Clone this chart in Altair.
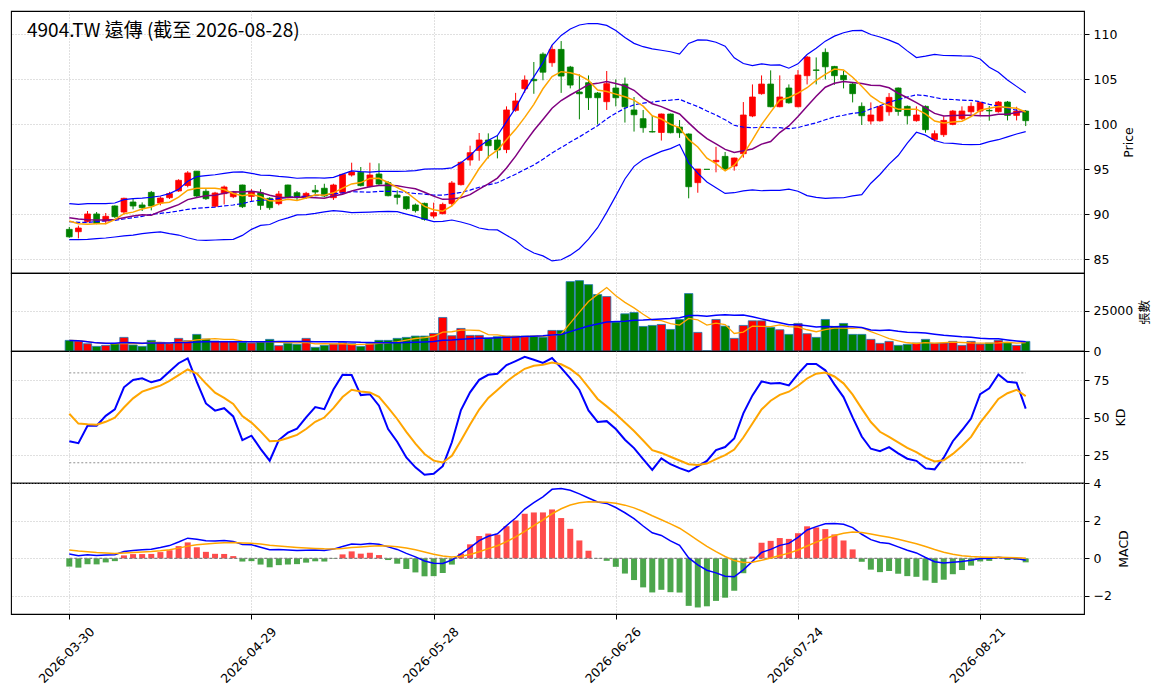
import altair as alt
import pandas as pd

title_text = "4904.TW 遠傳 (截至 2026-08-28)"
tick_pos = [0, 20, 40, 60, 80, 100]
tick_labels = ["2026-03-30", "2026-04-29", "2026-05-28", "2026-06-26", "2026-07-24", "2026-08-21"]

opens = [88.33, 88.07, 89.2, 90.04, 89.26, 90.93, 90.26, 91.37, 91.04, 92.44,
         91.26, 91.85, 92.6, 93.2, 94.8, 92.56, 90.9, 92.3, 91.96, 93.26,
         92.0, 92.4, 91.78, 91.19, 93.26, 92.4, 91.85, 92.67, 92.9, 91.85,
         92.4, 94.37, 94.67, 93.1, 94.48, 93.52, 92.15, 91.96, 91.04, 91.22,
         89.81, 90.07, 91.19, 93.3, 96.04, 97.1, 98.26, 98.26, 97.2, 101.56,
         103.96, 105.0, 107.8, 106.85, 108.33, 106.37, 103.6, 104.63, 103.48, 102.52,
         104.04, 104.48, 101.6, 100.63, 99.2, 99.1, 101.15, 99.7, 98.93, 93.52,
         95.0, 95.85, 96.44, 95.37, 96.74, 100.93, 103.41, 104.48, 101.96, 104.04,
         101.96, 105.41, 106.05, 108.0, 106.44, 105.44, 104.48, 102.0, 100.37, 100.4,
         101.4, 104.04, 102.0, 100.41, 102.0, 98.33, 98.85, 100.0, 100.63, 101.4,
         101.48, 101.55, 101.41, 102.48, 101.0, 101.48]
closes = [87.5, 88.48, 90.04, 89.0, 89.78, 89.74, 91.78, 90.93, 90.74, 90.93,
          91.81, 92.3, 93.78, 94.6, 92.04, 91.74, 92.37, 93.04, 92.4, 90.85,
          92.5, 91.0, 90.74, 92.26, 91.9, 91.85, 92.33, 92.48, 92.04, 93.26,
          94.44, 94.7, 93.19, 94.37, 93.37, 92.07, 91.89, 90.63, 90.41, 89.44,
          90.19, 91.1, 93.48, 95.78, 96.85, 98.26, 97.63, 97.15, 101.6, 102.6,
          104.93, 104.85, 105.8, 108.33, 105.37, 104.37, 103.4, 102.96, 102.96, 104.52,
          102.96, 101.96, 101.07, 99.63, 99.15, 101.15, 99.07, 99.07, 93.07, 95.04,
          95.0, 96.0, 95.04, 96.26, 101.04, 103.04, 104.48, 101.96, 103.04, 102.4,
          105.48, 107.48, 106.0, 106.4, 105.41, 104.96, 103.41, 100.96, 101.04, 102.0,
          103.0, 101.44, 100.96, 101.04, 99.41, 98.96, 100.44, 101.48, 101.48, 102.0,
          102.44, 101.5, 102.48, 101.0, 101.48, 100.41]
highs = [88.6, 88.74, 90.37, 90.26, 90.15, 91.0, 91.85, 91.78, 91.33, 92.6,
         92.0, 92.5, 93.9, 94.8, 94.8, 92.8, 92.5, 93.2, 92.6, 93.3,
         92.8, 92.8, 91.9, 92.6, 93.3, 92.6, 92.5, 93.26, 93.4, 93.4,
         94.5, 95.74, 95.26, 95.74, 95.67, 93.7, 92.67, 92.0, 91.2, 91.3,
         91.3, 91.3, 93.7, 95.9, 97.63, 99.04, 99.0, 98.8, 102.0, 103.5,
         105.44, 106.93, 108.0, 108.8, 109.26, 106.5, 105.56, 105.44, 103.6, 105.93,
         105.0, 105.2, 103.04, 101.6, 100.96, 101.2, 101.2, 100.48, 99.0, 95.04,
         95.0, 97.5, 96.93, 96.3, 102.48, 104.44, 105.44, 106.0, 105.44, 104.44,
         106.04, 107.6, 107.44, 108.44, 106.5, 105.93, 104.6, 102.44, 102.44, 102.1,
         103.48, 104.1, 102.1, 102.0, 102.1, 99.33, 100.9, 101.6, 102.0, 102.44,
         102.5, 102.04, 102.6, 102.6, 101.96, 101.6]
lows = [87.4, 87.33, 89.1, 88.9, 88.9, 89.6, 90.0, 90.56, 90.37, 90.44,
        91.0, 91.7, 92.5, 93.0, 91.9, 91.6, 90.8, 91.1, 91.8, 90.7,
        91.4, 90.5, 90.5, 91.0, 91.8, 91.6, 91.7, 92.04, 91.9, 91.6,
        92.3, 94.2, 93.1, 93.0, 93.2, 92.0, 91.1, 90.5, 90.2, 89.3,
        89.55, 90.0, 90.9, 93.2, 95.41, 95.96, 96.22, 96.22, 96.8, 101.4,
        103.5, 103.4, 104.9, 106.4, 103.5, 104.0, 100.56, 101.6, 100.0, 101.6,
        102.0, 100.2, 99.2, 99.07, 99.1, 98.2, 99.0, 98.5, 91.78, 92.4,
        95.0, 94.67, 94.9, 94.85, 96.3, 100.8, 103.3, 101.9, 101.9, 102.3,
        101.9, 104.44, 104.44, 105.0, 104.4, 104.0, 102.44, 99.93, 100.0, 100.3,
        100.96, 100.96, 100.0, 100.3, 99.07, 98.1, 98.6, 99.9, 100.5, 101.1,
        101.0, 100.41, 101.3, 100.44, 100.44, 99.81]
volumes = [6557, 6150, 4500, 2870, 3480, 4710, 8400, 3690, 2870, 6557,
           5330, 4710, 7790, 6350, 10250, 7380, 6150, 5940, 5940, 5330,
           4920, 5740, 7170, 3280, 4710, 4100, 7790, 2250, 3480, 4300,
           5120, 4500, 2870, 4500, 6557, 6557, 7790, 8400, 9220, 9220,
           10860, 20700, 9430, 13930, 9630, 9630, 7990, 8810, 9220, 9220,
           9220, 9220, 8500, 12700, 12700, 42830, 43440, 40980, 34840, 33600,
           17830, 22950, 23770, 15160, 15780, 16390, 13320, 19470, 35450, 11480,
           0, 19470, 15370, 7790, 15780, 18650, 18650, 14550, 13110, 10250,
           17010, 10660, 8400, 19470, 15160, 17010, 10250, 10250, 7170, 4710,
           5940, 3480, 4100, 4920, 7170, 4710, 4920, 5940, 3480, 5940,
           4300, 4920, 6560, 5330, 3480, 5940]

# indicator values for the first bars (history before the window)
ma5_start = [89.26, 88.96, 88.9, 88.96]
ma10_start = [89.63, 89.48, 89.4, 89.37, 89.37, 89.44, 89.63, 89.81, 89.96]
ma20_start = [89.19, 89.1, 89.1, 89.19, 89.26, 89.33, 89.48, 89.63, 89.78, 90.0,
              90.11, 90.22, 90.37, 90.56, 90.67, 90.74, 90.81, 90.93, 91.04]
bb_up_start = [91.19, 91.1, 91.19, 91.19, 91.19, 91.26, 91.63, 91.74, 91.8, 91.9,
               92.04, 92.3, 92.78, 93.67, 94.19, 94.3, 94.4, 94.56, 94.7]
bb_lo_start = [87.19, 87.19, 87.22, 87.3, 87.37, 87.48, 87.6, 87.7, 87.85, 87.96,
               88.04, 87.85, 87.7, 87.4, 87.15, 87.11, 87.15, 87.19, 87.22]
k_start = [34.4, 33.1, 44.7, 44.7, 51.3, 55.6, 70.4, 75.3, 76.4]
d_first = 52.7
ema12_first, ema26_first, dea_first = 89.4, 89.17, 0.45
kd_levels = [80, 20]

n = len(closes)
c = pd.Series(closes, dtype=float)
hi = pd.Series(highs, dtype=float)
lo = pd.Series(lows, dtype=float)
v = pd.Series(volumes, dtype=float)

ma5 = c.rolling(5).mean()
ma5.iloc[:len(ma5_start)] = ma5_start
ma10 = c.rolling(10).mean()
ma10.iloc[:len(ma10_start)] = ma10_start
ma20 = c.rolling(20).mean()
sd20 = c.rolling(20).std()
bbu = ma20 + 2 * sd20
bbl = ma20 - 2 * sd20
ma20.iloc[:len(ma20_start)] = ma20_start
bbu.iloc[:len(bb_up_start)] = bb_up_start
bbl.iloc[:len(bb_lo_start)] = bb_lo_start
vma5 = v.rolling(5, min_periods=1).mean()
vma20 = v.rolling(20, min_periods=1).mean()

hh = hi.rolling(9).max()
ll = lo.rolling(9).min()
rsv = (c - ll) / (hh - ll) * 100
K = list(k_start)
for i in range(len(k_start), n):
    K.append(K[-1] * 2 / 3 + rsv.iloc[i] / 3)
D = [d_first]
for i in range(1, n):
    D.append(D[-1] * 2 / 3 + K[i] / 3)

e12 = [ema12_first]
e26 = [ema26_first]
for i in range(1, n):
    e12.append(e12[-1] + 2 / 13 * (closes[i] - e12[-1]))
    e26.append(e26[-1] + 2 / 27 * (closes[i] - e26[-1]))
dif = [a - b for a, b in zip(e12, e26)]
dea = [dea_first]
for i in range(1, n):
    dea.append(dea[-1] + 0.2 * (dif[i] - dea[-1]))
hist = [2 * (a - b) for a, b in zip(dif, dea)]

df = pd.DataFrame({
    "i": list(range(n)), "open": opens, "close": closes, "high": highs, "low": lows,
    "vol": volumes, "ma5": ma5, "ma10": ma10, "ma20": ma20, "bbu": bbu, "bbl": bbl,
    "vma5": vma5, "vma20": vma20, "K": K, "D": D, "dif": dif, "dea": dea, "hist": hist,
})
df["dir"] = ["up" if cl > op else "down" for op, cl in zip(opens, closes)]
df["hdir"] = ["up" if h >= 0 else "down" for h in hist]
df["zero"] = 0.0

ref_df = pd.DataFrame({"level": kd_levels, "x0": 0, "x1": n - 1})
zero_df = pd.DataFrame({"level": [0], "x0": [0], "x1": [n - 1]})

W = 1073
xscale = alt.Scale(domain=[-6.4, 111.4], nice=False, zero=False, padding=0)
dir_scale = alt.Scale(domain=["up", "down"], range=["#ff0000", "#008000"])

labels_js = "[" + ",".join("'" + s + "'" for s in tick_labels) + "]"
pos_js = "[" + ",".join(str(p) for p in tick_pos) + "]"

def xenc(bottom=False, field="i"):
    if bottom:
        ax = alt.Axis(values=tick_pos, labelExpr=labels_js + "[indexof(" + pos_js + ", datum.value)]",
                      labelAngle=315, labelAlign="center", labelBaseline="middle",
                      labelPadding=36, labelOffset=-3, ticks=True, tickSize=5, domain=False,
                      grid=True, title=None)
    else:
        ax = alt.Axis(values=tick_pos, labels=False, ticks=False, domain=False, grid=True, title=None)
    return alt.X(field + ":Q", scale=xscale, axis=ax)

def yaxis(title, values, fmt="d"):
    return alt.Axis(orient="right", values=values, title=title, format=fmt,
                    titleAngle=270, titleBaseline="top", titlePadding=6,
                    titleFontWeight="normal", titleFont="DejaVu Sans, Noto Sans CJK TC",
                    titleFontSize=12.5, labelFont="DejaVu Sans", labelFontSize=12.5,
                    tickSize=5, labelPadding=4, domain=False, grid=True)

base = alt.Chart(df)

# ---- price panel ----
py = alt.Scale(domain=[83.48, 112.6], nice=False, zero=False, padding=0)
pyaxis = yaxis("Price", [85, 90, 95, 100, 105, 110])
wick = base.mark_rule(strokeWidth=1).encode(
    x=xenc(), y=alt.Y("low:Q", scale=py, axis=pyaxis), y2="high:Q",
    color=alt.Color("dir:N", scale=dir_scale, legend=None))
body = base.mark_bar(width=5.8, strokeWidth=0.8).encode(
    x=xenc(), y=alt.Y("open:Q", scale=py), y2="close:Q",
    fill=alt.Fill("dir:N", scale=dir_scale, legend=None),
    stroke=alt.Stroke("dir:N", scale=dir_scale, legend=None))

def pline(col, color, width, dash=None):
    kw = dict(color=color, strokeWidth=width, clip=True)
    if dash:
        kw["strokeDash"] = dash
    return base.mark_line(**kw).encode(x=xenc(), y=alt.Y(col + ":Q", scale=py))

title_mark = alt.Chart(pd.DataFrame({"t": [title_text]})).mark_text(
    align="left", baseline="alphabetic", fontSize=19, fontWeight="normal",
    font="Noto Sans CJK TC", color="black").encode(
    x=alt.value(16), y=alt.value(26), text="t:N")

price = alt.layer(
    wick, body,
    pline("bbu", "#0000ff", 1.2), pline("bbl", "#0000ff", 1.2),
    pline("ma20", "#0000ff", 1.2, [4.5, 2]),
    pline("ma10", "#800080", 1.5), pline("ma5", "#ffa500", 1.5),
    title_mark,
).properties(width=W, height=262)

# ---- volume panel ----
vy = alt.Scale(domain=[0, 48150], nice=False, zero=False, padding=0)
vbars = base.mark_bar(width=8.3, stroke="#1f77b4", strokeWidth=0.8).encode(
    x=xenc(), y=alt.Y("vol:Q", scale=vy, axis=yaxis("張數", [0, 25000])), y2="zero:Q",
    fill=alt.Fill("dir:N", scale=dir_scale, legend=None))
vl5 = base.mark_line(color="#ffa500", strokeWidth=1.3).encode(x=xenc(), y=alt.Y("vma5:Q", scale=vy))
vl20 = base.mark_line(color="#0000ff", strokeWidth=1.5).encode(x=xenc(), y=alt.Y("vma20:Q", scale=vy))
volume = alt.layer(vbars, vl5, vl20).properties(width=W, height=78)

# ---- KD panel ----
ky = alt.Scale(domain=[6.5, 94.6], nice=False, zero=False, padding=0)
kref = alt.Chart(ref_df).mark_rule(color="#909090", strokeWidth=1, strokeDash=[2, 2]).encode(
    x=xenc(field="x0"), x2="x1:Q", y=alt.Y("level:Q", scale=ky, axis=yaxis("KD", [25, 50, 75])))
kline = base.mark_line(color="#0000ff", strokeWidth=2).encode(x=xenc(), y=alt.Y("K:Q", scale=ky))
dline = base.mark_line(color="#ffa500", strokeWidth=2).encode(x=xenc(), y=alt.Y("D:Q", scale=ky))
kd = alt.layer(kref, kline, dline).properties(width=W, height=132)

# ---- MACD panel ----
my = alt.Scale(domain=[-2.97, 4.02], nice=False, zero=False, padding=0)
hbars = base.mark_bar(width=6, opacity=0.7).encode(
    x=xenc(bottom=True), y=alt.Y("hist:Q", scale=my, axis=yaxis("MACD", [-2, 0, 2, 4])), y2="zero:Q",
    fill=alt.Fill("hdir:N", scale=dir_scale, legend=None))
zline = alt.Chart(zero_df).mark_rule(color="#808080", strokeWidth=1.2, strokeDash=[3, 2]).encode(
    x=xenc(bottom=True, field="x0"), x2="x1:Q", y=alt.Y("level:Q", scale=my))
difl = base.mark_line(color="#0000ff", strokeWidth=1.5).encode(x=xenc(bottom=True), y=alt.Y("dif:Q", scale=my))
deal = base.mark_line(color="#ffa500", strokeWidth=1.5).encode(x=xenc(bottom=True), y=alt.Y("dea:Q", scale=my))
macd = alt.layer(hbars, zline, difl, deal).properties(width=W, height=131)

chart = alt.vconcat(price, volume, kd, macd, spacing=0, bounds="flush").properties(
    padding={"left": 2, "top": 2, "right": 2, "bottom": 2}
).configure(background="white").configure_view(
    stroke="black", strokeWidth=1.1
).configure_axis(
    labelFont="DejaVu Sans", labelFontSize=12.5, labelColor="black",
    titleFont="DejaVu Sans, Noto Sans CJK TC", titleFontSize=12.5, titleFontWeight="normal",
    titleColor="black", tickColor="black", tickWidth=1,
    gridColor="#b0b0b0", gridDash=[1, 2], gridWidth=0.8,
)

chart.save("out.html", embed_options={"renderer": "svg", "actions": False})
